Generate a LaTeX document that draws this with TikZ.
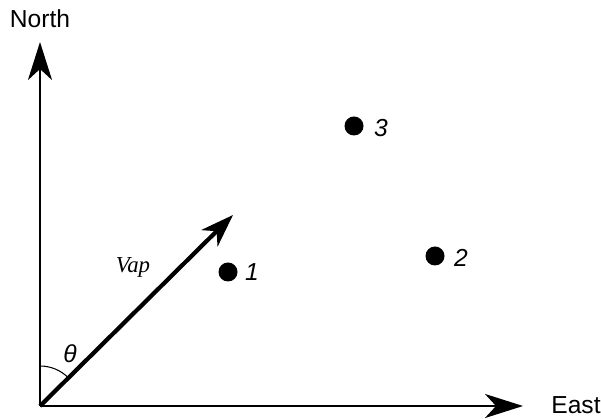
\documentclass[tikz,border=0pt]{standalone}
\usepackage{fontspec}
\setmainfont{Liberation Sans}
\newfontfamily\serifit{Liberation Serif}
\usetikzlibrary{arrows.meta}
\tikzset{
  axis/.style={line width=1.5pt, -{Stealth[length=0.76cm, width=0.48cm, inset=0.22cm]}},
  vec/.style={line width=2.4pt, -{Stealth[length=0.66cm, width=0.46cm, inset=0.2cm]}},
  dot/.style={circle, fill=black, inner sep=0pt, minimum size=0.38cm},
  lbl/.style={font=\fontsize{14}{16}\selectfont},
  num/.style={font=\itshape\fontsize{14}{16}\selectfont}
}
\begin{document}
\begin{tikzpicture}
    \useasboundingbox (-0.8,-0.26) rectangle (11.22,8.12);
        % Points of the axes and the vector
        \coordinate (O) at (0,0);
        \coordinate (N) at (0,7.28);
        \coordinate (E) at (9.66,0);
        \coordinate (V) at (3.86,3.82);
        % Draw the axes
        \draw[axis] (O) -- (N);
        \draw[axis] (O) -- (E);
        % Draw the vector
        \draw[vec] (O) -- (V);
        % Mark the angle
        \draw[line width=0.6pt] (0,0.8) arc (90:45:0.8);
        % Label the axes
        \node[lbl] (north) at (0,7.74) {North};
        \node[lbl] (east) at (10.72,0.02) {East};
        \node[font=\serifit\itshape\fontsize{13}{15}\selectfont] (vap) at (1.86,2.78) {Vap};
        \node[num] (theta) at (0.6,1.04) {θ};
        % Draw the points
        \node[dot] (p1) at (3.76,2.68) {};
        \node[dot] (p2) at (7.9,3.0) {};
        \node[dot] (p3) at (6.28,5.6) {};
        % Label the points
        \node[num] (l1) at (4.24,2.68) {1};
        \node[num] (l2) at (8.42,2.96) {2};
        \node[num] (l3) at (6.82,5.56) {3};
    \end{tikzpicture}
\end{document}
